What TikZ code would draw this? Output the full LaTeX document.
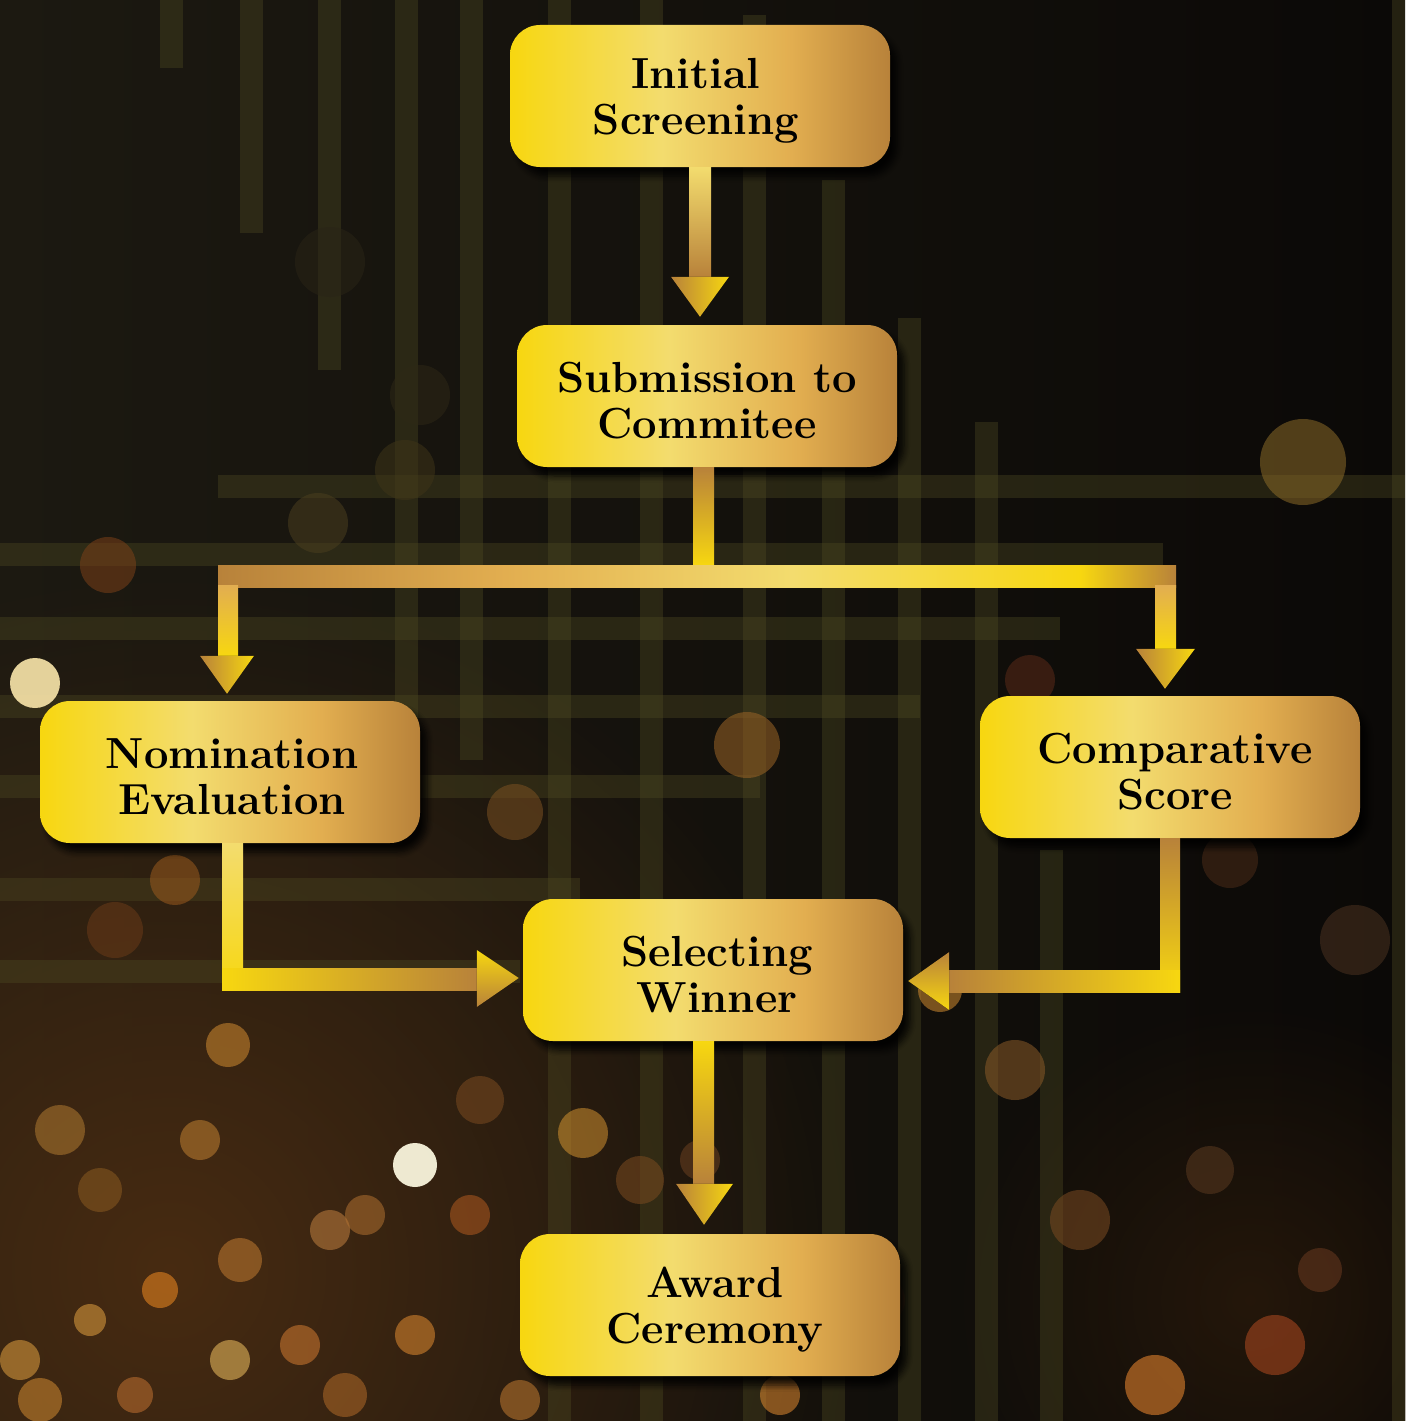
\documentclass[tikz,border=0pt]{standalone}
\usetikzlibrary{calc,shadows.blur,fadings}
\definecolor{bgL}{HTML}{1C1911}
\definecolor{bgR}{HTML}{0B0907}
\definecolor{bg}{HTML}{100D0A}
\definecolor{haze}{HTML}{4A2C12}
\definecolor{stripe}{HTML}{4E4A22}
\definecolor{gy}{HTML}{F7D710}
\definecolor{gp}{HTML}{F3DC6E}
\definecolor{go}{HTML}{E2AE50}
\definecolor{gb}{HTML}{B8823A}
\tikzfading[name=softc, inner color=transparent!0, outer color=transparent!100]
\pgfdeclarehorizontalshading{goldbox}{100bp}{color(0bp)=(gy); color(25bp)=(gy); color(45bp)=(gp); color(62bp)=(go); color(75bp)=(gb); color(100bp)=(gb)}
\pgfdeclarehorizontalshading{goldbar}{100bp}{color(0bp)=(gb); color(25bp)=(gb); color(40bp)=(go); color(55bp)=(gp); color(70bp)=(gy); color(75bp)=(gb); color(100bp)=(gb)}
\tikzset{
  stepnode/.style={rounded corners=30pt, minimum width=380pt, minimum height=142pt,
    inner sep=0pt, shading=goldbox,
    blur shadow={shadow xshift=7pt, shadow yshift=-9pt, shadow blur steps=6, shadow opacity=85, shadow blur radius=6pt}},
  steptext/.style={align=center, inner sep=0pt, text=black,
    font=\fontsize{43.5}{46}\selectfont\bfseries},
  strp/.style={fill=stripe, opacity=0.38},
  bok/.style={opacity=0.55},
  shaftdown/.style={top color=gp, bottom color=gb},
  headh/.style={left color=gb, middle color=gp, right color=gy},
}
\begin{document}
\begin{tikzpicture}[x=1pt,y=-1pt]
\useasboundingbox (0,0) rectangle (1405,1421);
% background
\shade[left color=bgL, right color=bgR] (0,0) rectangle (1405,1421);
\fill[haze, path fading=softc, opacity=0.95] (170,1270) circle (700);
\fill[haze!70!black, path fading=softc, opacity=0.6] (1250,1300) circle (300);
% stripes vertical
\foreach \x/\a/\b in {160/0/68, 240/0/233, 318/0/370, 395/0/760, 460/0/760, 548/0/1421, 640/0/1421, 743/15/1421, 822/180/1421, 898/318/1421, 975/422/1421, 1040/850/1421}
  \fill[strp] (\x,\a) rectangle ++(23,\b-\a);
\fill[strp] (1392,0) rectangle (1405,1421);
% stripes horizontal
\foreach \y/\a/\b in {475/218/1405, 543/0/1163, 617/0/1060, 695/0/920, 775/0/760, 878/0/580, 960/0/520}
  \fill[strp] (\a,\y) rectangle (\b,\y+23);
% bokeh
\foreach \cx/\cy/\r/\c in {
  1303/462/43/8A6A28, 108/565/28/7A4018, 318/523/30/4A3E1E, 405/470/30/3E3418,
  330/262/35/2A2416, 420/395/30/2E2816,
  747/745/33/9A6426, 515/812/28/7A5022, 175/880/25/9A5A1E, 115/930/28/6A3A18,
  228/1045/22/D08A30, 60/1130/25/B07A30, 100/1190/22/8A5A20, 200/1140/20/C08030,
  583/1133/25/D09030, 480/1100/24/7A4A20, 330/1230/20/C08040, 365/1215/20/B07030,
  470/1215/20/B05A20, 160/1290/18/F08A20, 240/1260/22/C07A30, 300/1345/20/D07A30,
  415/1335/20/E08A30, 230/1360/20/F0C060, 20/1360/20/E0A040, 90/1320/16/E0A040,
  40/1400/22/D08A30, 135/1395/18/C07030, 345/1395/22/B06A28, 520/1400/20/C07A30,
  780/1395/20/E08A30, 640/1180/24/7A4A20, 700/1160/20/6A4020,
  1155/1385/30/F08A30, 1275/1345/30/B04A20, 1080/1220/30/7A4A22, 1015/1070/30/8A5A28,
  1355/940/35/4A3220, 1230/860/28/4A2A18, 1030/680/25/5A2A18, 940/990/22/D08A30,
  1210/1170/24/5A3A20, 1320/1270/22/6A3A20, 880/1300/25/4A2A18, 600/1300/20/8A5020}
  {\definecolor{bc}{HTML}{\c}\fill[bok, bc] (\cx,\cy) circle (\r);}
\fill[opacity=0.9, color={rgb,255:red,250;green,230;blue,170}] (35,683) circle (25);
\fill[opacity=0.95, color={rgb,255:red,248;green,244;blue,220}] (415,1165) circle (22);
% nodes
\node[stepnode] (is) at (700,96) {};
\node[stepnode] (sc) at (707,396) {};
\node[stepnode] (ne) at (230,772) {};
\node[stepnode] (cs) at (1170,767) {};
\node[stepnode] (sw) at (713,970) {};
\node[stepnode] (ac) at (710,1305) {};
\node[steptext] (ist) at ($(is)+(-4,5)$) {Initial\\Screening};
\node[steptext] (sct) at ($(sc)+(0,5)$) {Submission to\\Commitee};
\node[steptext] (net) at ($(ne)+(2,5)$) {Nomination\\Evaluation};
\node[steptext] (cst) at ($(cs)+(5,5)$) {Comparative\\Score};
\node[steptext] (swt) at ($(sw)+(4,5)$) {Selecting\\Winner};
\node[steptext] (act) at ($(ac)+(5,5)$) {Award\\Ceremony};
% arrow 1
\coordinate (a1) at (is.south |- sc.north);
\fill[shaftdown] ($(is.south)+(-11,0)$) rectangle ($(a1)+(11,-48)$);
\fill[headh] ($(a1)+(-29,-48)$) -- ($(a1)+(29,-48)$) -- ($(a1)+(0,-8)$) -- cycle;
% arrow 2 (split)
\fill[top color=gb, bottom color=gy] ($(sc.south)+(-14,0)$) rectangle ($(sc.south)+(7,98)$);
\fill[shading=goldbar] ($(ne.north |- sc.south)+(-12,98)$) rectangle ($(cs.north |- sc.south)+(6,120)$);
\fill[top color=go, bottom color=gy] ($(ne.north)+(-12,-115)$) rectangle ($(ne.north)+(8,-45)$);
\fill[headh] ($(ne.north)+(-30,-45)$) -- ($(ne.north)+(24,-45)$) -- ($(ne.north)+(-3,-7)$) -- cycle;
\fill[top color=go, bottom color=gy] ($(cs.north)+(-15,-110)$) rectangle ($(cs.north)+(6,-47)$);
\fill[headh] ($(cs.north)+(-34,-47)$) -- ($(cs.north)+(25,-47)$) -- ($(cs.north)+(-5,-7)$) -- cycle;
% arrow 3 (left)
\fill[top color=gp, bottom color=gy] ($(ne.south)+(-8,0)$) rectangle ($(ne.south |- sw.west)+(13,20)$);
\fill[left color=gy, middle color=gp, right color=gb] ($(ne.south |- sw.west)+(-8,-2)$) rectangle ($(sw.west)+(-46,20)$);
\fill[top color=gy, bottom color=gb] ($(sw.west)+(-46,-20)$) -- ($(sw.west)+(-46,37)$) -- ($(sw.west)+(-4,8)$) -- cycle;
% arrow 4 (right)
\fill[top color=gb, bottom color=gy] ($(cs.south)+(-10,0)$) rectangle ($(cs.south |- sw.east)+(10,22)$);
\fill[left color=gb, middle color=go, right color=gy] ($(sw.east)+(46,0)$) rectangle ($(cs.south |- sw.east)+(10,22)$);
\fill[top color=gb, bottom color=gy] ($(sw.east)+(46,-18)$) -- ($(sw.east)+(46,40)$) -- ($(sw.east)+(5,11)$) -- cycle;
% arrow 5
\coordinate (a5) at (sw.south |- ac.north);
\fill[top color=gy, bottom color=gb] ($(sw.south)+(-20,0)$) rectangle ($(a5)+(1,-50)$);
\fill[headh] ($(a5)+(-37,-50)$) -- ($(a5)+(20,-50)$) -- ($(a5)+(-9,-9)$) -- cycle;
\end{tikzpicture}
\end{document}
